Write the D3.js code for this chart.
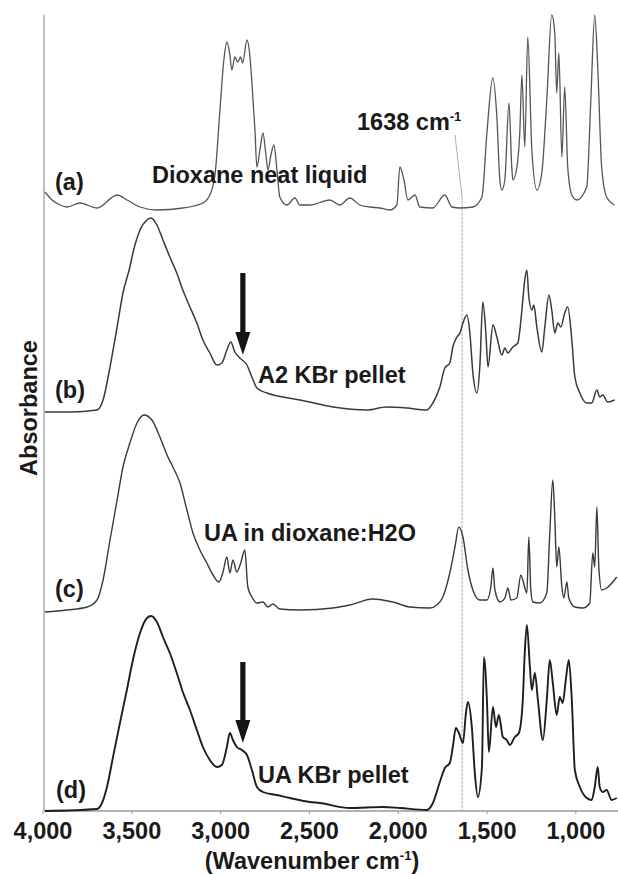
<!DOCTYPE html>
<html>
<head>
<meta charset="utf-8">
<script src="https://cdn.jsdelivr.net/npm/d3@7"></script>
<style>
  html, body { margin: 0; padding: 0; background: #fff; }
  svg text { font-family: "Liberation Sans", Arial, Helvetica, sans-serif; font-weight: bold; fill: #1a1a1a; }
</style>
</head>
<body>
<svg id="chart" width="618" height="875"></svg>
<script>
// ---------------- DATA ----------------
const seriesKeys = ["a", "b", "c", "d"];
const seriesTags = ["(a)", "(b)", "(c)", "(d)"];
const seriesNames = ["Dioxane neat liquid", "A2 KBr pellet", "UA in dioxane:H2O", "UA KBr pellet"];
const seriesOffsets = [606, 399, 199, 0];   // vertical stacking offsets (absorbance units, arbitrary)
const xTickValues = [4000, 3500, 3000, 2500, 2000, 1500, 1000];
const markerWavenumber = 1638;
const arrowWavenumber = 2872;

// [wavenumber cm-1, absorbance (arbitrary units)]
const spectrumA = [
  [3986,13],[3946,5],[3901,0],[3862,-2],[3789,2],[3693,-3],[3580,10],[3524,5],[3451,-2],[3356,-5],
  [3210,-3],[3097,2],[3058,10],[3029,30],[3001,95],[2979,145],[2962,163],[2945,150],[2934,135],[2917,148],
  [2901,143],[2884,148],[2873,142],[2849,165],[2833,150],[2821,122],[2804,75],[2793,38],[2776,55],[2759,72],
  [2742,50],[2731,35],[2714,50],[2697,60],[2680,35],[2664,8],[2624,0],[2579,7],[2551,0],[2494,0],
  [2382,5],[2326,0],[2270,7],[2214,0],[2157,-2],[2101,-3],[2045,-5],[2005,0],[1988,38],[1965,25],
  [1943,5],[1903,10],[1876,-2],[1803,-3],[1735,10],[1695,-2],[1650,-3],[1577,-2],[1526,8],[1498,72],
  [1465,127],[1442,88],[1425,25],[1414,15],[1397,25],[1374,102],[1358,38],[1352,25],[1330,37],[1313,72],
  [1301,130],[1285,58],[1268,168],[1245,55],[1217,15],[1189,32],[1161,105],[1133,190],[1116,172],[1105,112],
  [1093,152],[1076,48],[1060,118],[1043,38],[1020,10],[992,5],[936,18],[913,105],[891,190],[874,138],
  [852,38],[824,8],[779,0]
];
const spectrumB = [
  [3986,0],[3845,0],[3693,2],[3659,12],[3620,45],[3580,85],[3547,119],[3508,145],[3491,159],[3451,182],
  [3412,192],[3389,194],[3356,187],[3322,172],[3283,155],[3244,139],[3210,122],[3170,105],[3131,89],[3097,72],
  [3058,59],[3018,47],[2990,49],[2962,62],[2940,70],[2917,60],[2889,54],[2849,47],[2821,35],[2793,24],
  [2737,19],[2647,15],[2551,12],[2365,5],[2174,2],[2062,5],[1949,4],[1836,2],[1802,9],[1763,25],
  [1735,44],[1707,49],[1690,65],[1667,75],[1650,79],[1633,89],[1611,97],[1594,79],[1577,39],[1554,19],
  [1538,45],[1521,110],[1504,79],[1492,45],[1464,87],[1442,75],[1414,57],[1397,64],[1380,59],[1352,65],
  [1324,69],[1301,102],[1285,132],[1273,142],[1262,115],[1245,102],[1234,107],[1217,85],[1189,60],[1172,85],
  [1149,117],[1133,102],[1116,79],[1099,89],[1082,85],[1060,99],[1043,105],[1020,72],[1003,35],[975,19],
  [936,9],[908,9],[879,22],[863,15],[846,17],[818,10],[779,12]
];
const spectrumC = [
  [3986,0],[3862,2],[3749,5],[3693,12],[3659,32],[3620,72],[3580,112],[3547,145],[3508,169],[3468,189],
  [3429,197],[3384,192],[3339,175],[3299,157],[3266,145],[3226,129],[3187,102],[3153,79],[3114,62],[3075,49],
  [3040,37],[3007,30],[2985,39],[2962,55],[2945,39],[2928,52],[2906,40],[2884,49],[2861,62],[2844,25],
  [2821,15],[2793,9],[2759,10],[2731,5],[2703,8],[2664,3],[2551,2],[2365,4],[2270,7],[2141,13],
  [2028,10],[1932,5],[1819,4],[1780,7],[1746,15],[1707,39],[1678,65],[1656,85],[1633,75],[1605,42],
  [1577,22],[1538,12],[1498,12],[1476,25],[1464,44],[1453,22],[1425,10],[1397,14],[1380,24],[1363,12],
  [1330,14],[1307,37],[1296,32],[1273,19],[1262,75],[1251,22],[1239,10],[1200,9],[1161,19],[1144,79],
  [1127,132],[1116,95],[1105,45],[1093,65],[1076,25],[1065,14],[1048,30],[1037,14],[1003,5],[958,4],
  [919,9],[902,59],[891,45],[879,105],[868,45],[852,22],[824,24],[767,35]
];
const spectrumD = [
  [3986,0],[3693,2],[3665,8],[3637,24],[3603,54],[3564,88],[3525,121],[3491,151],[3451,178],[3412,193],
  [3389,195],[3356,189],[3322,174],[3283,158],[3244,138],[3210,119],[3170,101],[3131,81],[3097,64],[3058,51],
  [3018,44],[2990,46],[2962,64],[2945,78],[2928,71],[2906,64],[2878,61],[2849,56],[2821,41],[2793,24],
  [2759,19],[2681,16],[2607,13],[2495,9],[2439,8],[2270,3],[2084,4],[1988,3],[1836,1],[1802,8],
  [1763,29],[1735,43],[1707,48],[1690,64],[1673,83],[1656,78],[1633,68],[1616,98],[1605,109],[1583,84],
  [1566,38],[1549,14],[1526,44],[1515,154],[1498,111],[1487,59],[1464,104],[1447,84],[1431,96],[1408,74],
  [1386,71],[1369,66],[1341,74],[1318,78],[1296,111],[1285,158],[1273,186],[1256,144],[1245,121],[1228,138],
  [1211,111],[1183,71],[1161,111],[1144,151],[1127,128],[1105,96],[1088,114],[1071,108],[1054,131],[1037,151],
  [1020,111],[1003,41],[975,24],[936,13],[908,11],[891,24],[874,44],[863,24],[846,19],[824,21],
  [796,11],[767,13]
];
const spectra = [spectrumA, spectrumB, spectrumC, spectrumD];

// ---------------- LAYOUT ----------------
const svg = d3.select("#chart");
const x = d3.scaleLinear().domain([4000, 760]).range([42.5, 618]);
const y = d3.scaleLinear().domain([0, 800]).range([811, 11]);
const plotLeft = 44, plotTop = 15;

// left frame line
svg.append("line")
  .attr("x1", plotLeft).attr("x2", plotLeft)
  .attr("y1", plotTop).attr("y2", y(0))
  .attr("stroke", "#a8a8a8").attr("stroke-width", 1.5);

// 1638 marker line and leader
svg.append("line")
  .attr("x1", x(markerWavenumber)).attr("x2", x(markerWavenumber))
  .attr("y1", y(seriesOffsets[0] + 8)).attr("y2", y(0))
  .attr("stroke", "#b0b0b0").attr("stroke-width", 1)
  .attr("stroke-dasharray", "3,1");
svg.append("line")
  .attr("x1", x(markerWavenumber) - 7).attr("x2", x(markerWavenumber))
  .attr("y1", 135).attr("y2", y(seriesOffsets[0] + 8))
  .attr("stroke", "#b0b0b0").attr("stroke-width", 1);

// bottom axis
const xAxis = d3.axisBottom(x)
  .tickValues(xTickValues)
  .tickFormat(d3.format(","))
  .tickSize(3)
  .tickPadding(8);
const gx = svg.append("g").attr("transform", `translate(0,${y(0)})`).call(xAxis);
gx.select(".domain").attr("stroke", "#999").attr("stroke-width", 1.5)
  .attr("d", `M${plotLeft},0H618`);
gx.selectAll(".tick line").attr("stroke", "#999");
gx.selectAll(".tick text")
  .style("font-size", "23.5px")
  .style("font-family", '"Liberation Sans", Arial, sans-serif')
  .style("font-weight", "bold")
  .attr("fill", "#1a1a1a");

// x axis title
const xt = svg.append("text")
  .attr("x", 312).attr("y", 869)
  .attr("text-anchor", "middle")
  .style("font-size", "23.5px");
xt.append("tspan").text("(Wavenumber cm");
xt.append("tspan").text("-1").style("font-size", "13px").attr("dy", -9);
xt.append("tspan").text(")").attr("dy", 9);

// y axis title
svg.append("text")
  .attr("transform", "translate(37,408) rotate(-90)")
  .attr("text-anchor", "middle")
  .style("font-size", "23.5px")
  .text("Absorbance");

// spectra
const lineStyles = [
  { color: "#555", width: 1.3 },
  { color: "#3a3a3a", width: 1.5 },
  { color: "#3a3a3a", width: 1.4 },
  { color: "#1e1e1e", width: 1.9 }
];
spectra.forEach((data, i) => {
  const gen = d3.line()
    .x(d => x(d[0]))
    .y(d => y(d[1] + seriesOffsets[i]))
    .curve(d3.curveMonotoneX);
  svg.append("path")
    .datum(data)
    .attr("class", "spectrum-" + seriesKeys[i])
    .attr("fill", "none")
    .attr("stroke", lineStyles[i].color)
    .attr("stroke-width", lineStyles[i].width)
    .attr("stroke-linejoin", "round")
    .attr("d", gen);
});

// series tags and names
const tagPos = [[55, 190], [55, 398], [55, 597], [56, 798]];
const namePos = [[152, 183], [258, 383], [204, 541], [258, 783]];
seriesTags.forEach((t, i) => {
  svg.append("text").attr("x", tagPos[i][0]).attr("y", tagPos[i][1])
    .style("font-size", "23.5px").text(t);
  svg.append("text").attr("x", namePos[i][0]).attr("y", namePos[i][1])
    .style("font-size", "23.5px").text(seriesNames[i]);
});

// 1638 label
const ml = svg.append("text").attr("x", 357).attr("y", 130).style("font-size", "23.5px");
ml.append("tspan").text(markerWavenumber + " cm");
ml.append("tspan").text("-1").style("font-size", "13px").attr("dy", -9);

// arrows on (b) and (d)
const arrowSpans = [[1, 139, 57], [3, 149, 68]];
arrowSpans.forEach(([si, top, tip]) => {
  const ax = x(arrowWavenumber);
  const yTop = y(seriesOffsets[si] + top);
  const yTip = y(seriesOffsets[si] + tip);
  const headH = 23, headW = 7.5, shaftW = 2.6;
  svg.append("path")
    .attr("d", `M${ax - shaftW},${yTop} L${ax + shaftW},${yTop} L${ax + shaftW},${yTip - headH} L${ax + headW},${yTip - headH} L${ax},${yTip} L${ax - headW},${yTip - headH} L${ax - shaftW},${yTip - headH} Z`)
    .attr("fill", "#151515");
});
</script>
</body>
</html>
